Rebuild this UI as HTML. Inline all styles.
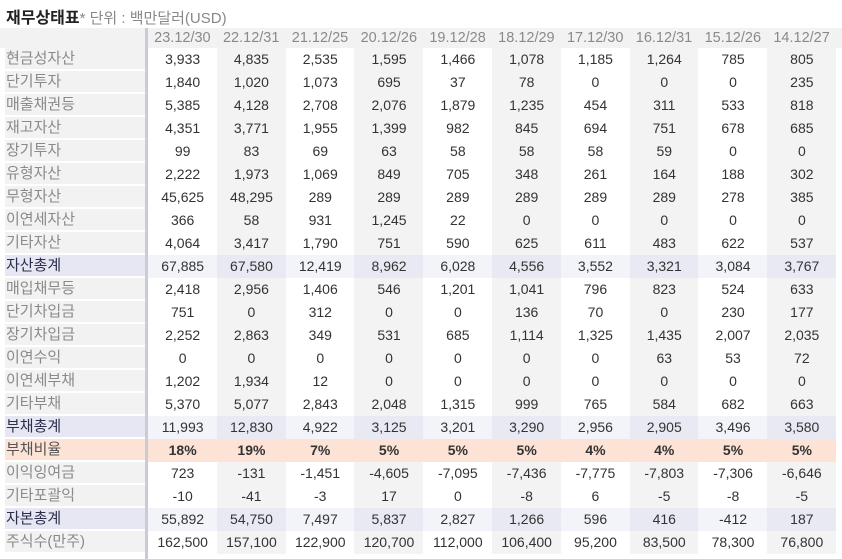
<!DOCTYPE html>
<html><head><meta charset="utf-8">
<style>
body{margin:0;background:#fff;width:842px;height:559px;overflow:hidden;font-family:"Liberation Sans","Noto Sans CJK KR",sans-serif;position:relative}
.t{position:absolute;left:6px;top:4px;font-size:16px;color:#333;white-space:nowrap}
.t b{font-weight:bold;color:#222}
.t span{color:#888;font-size:15px}
.c{position:absolute;height:23px;line-height:22px;text-align:center;font-size:14px;color:#333;white-space:nowrap}
.l{position:absolute;left:5px;width:140px;height:21px;line-height:21px;font-size:15px;color:#8a8a8a;padding-left:1px;box-sizing:border-box;background:#f2f2f2}
.sep{position:absolute;left:145px;top:28px;width:3px;height:531px;background:#c9ccd4}
</style></head><body>
<div class="t"><b>재무상태표</b><span>* 단위 : 백만달러(USD)</span></div>
<div id="tbl"></div>
<div class="sep"></div>
<script>
const dates=["23.12/30","22.12/31","21.12/25","20.12/26","19.12/28","18.12/29","17.12/30","16.12/31","15.12/26","14.12/27"];
const labels=["현금성자산","단기투자","매출채권등","재고자산","장기투자","유형자산","무형자산","이연세자산","기타자산","자산총계","매입채무등","단기차입금","장기차입금","이연수익","이연세부채","기타부채","부채총계","부채비율","이익잉여금","기타포괄익","자본총계","주식수(만주)"];
const values=[
["3,933","4,835","2,535","1,595","1,466","1,078","1,185","1,264","785","805"],
["1,840","1,020","1,073","695","37","78","0","0","0","235"],
["5,385","4,128","2,708","2,076","1,879","1,235","454","311","533","818"],
["4,351","3,771","1,955","1,399","982","845","694","751","678","685"],
["99","83","69","63","58","58","58","59","0","0"],
["2,222","1,973","1,069","849","705","348","261","164","188","302"],
["45,625","48,295","289","289","289","289","289","289","278","385"],
["366","58","931","1,245","22","0","0","0","0","0"],
["4,064","3,417","1,790","751","590","625","611","483","622","537"],
["67,885","67,580","12,419","8,962","6,028","4,556","3,552","3,321","3,084","3,767"],
["2,418","2,956","1,406","546","1,201","1,041","796","823","524","633"],
["751","0","312","0","0","136","70","0","230","177"],
["2,252","2,863","349","531","685","1,114","1,325","1,435","2,007","2,035"],
["0","0","0","0","0","0","0","63","53","72"],
["1,202","1,934","12","0","0","0","0","0","0","0"],
["5,370","5,077","2,843","2,048","1,315","999","765","584","682","663"],
["11,993","12,830","4,922","3,125","3,201","3,290","2,956","2,905","3,496","3,580"],
["18%","19%","7%","5%","5%","5%","4%","4%","5%","5%"],
["723","-131","-1,451","-4,605","-7,095","-7,436","-7,775","-7,803","-7,306","-6,646"],
["-10","-41","-3","17","0","-8","6","-5","-8","-5"],
["55,892","54,750","7,497","5,837","2,827","1,266","596","416","-412","187"],
["162,500","157,100","122,900","120,700","112,000","106,400","95,200","83,500","78,300","76,800"]];
const totals=[9,16,20], ratio=17;
const X0=148,CW=68.8,Y0=48,RH=23;
const tbl=document.getElementById('tbl');
function mk(cls,css,txt){const d=document.createElement('div');d.className=cls;d.style.cssText=css;d.textContent=txt;tbl.appendChild(d);return d;}
const hb=mk('c','left:0;top:28px;width:842px;height:20px;background:#f2f2f2','');


const hbl=mk('c','left:5px;top:28px;width:140px;height:20px;background:#f2f2f2','');


dates.forEach((d,j)=>{
  const e=mk('c',`left:${X0+j*CW}px;top:28px;width:${CW}px;height:20px;line-height:20px;color:#8a8a8a;font-size:14.5px`,d);
  
  
});
labels.forEach((lab,i)=>{
  const y=Y0+i*RH;
  const isT=totals.includes(i), isR=i===ratio;
  let lbg=isT?'#e6e7f3':isR?'#fde3d6':'#f2f2f2';
  const l=mk('l',`top:${y}px;background:${lbg};color:${isT?'#2b2f4a':isR?'#555':'#8a8a8a'}`,lab);
  
  
  values[i].forEach((v,j)=>{
    let bg;
    if(isR)bg='#fde3d6';
    else if(isT)bg=j%2?'#e9e9f4':'#f3f3fa';
    else bg=j%2?'#f3f3f3':'#ffffff';
    const c=mk('c',`left:${X0+j*CW}px;top:${y}px;width:${CW+0.5}px;background:${bg};${isR?'font-weight:bold;':''}`,v);
    
    
  });
});
</script>
</body></html>
